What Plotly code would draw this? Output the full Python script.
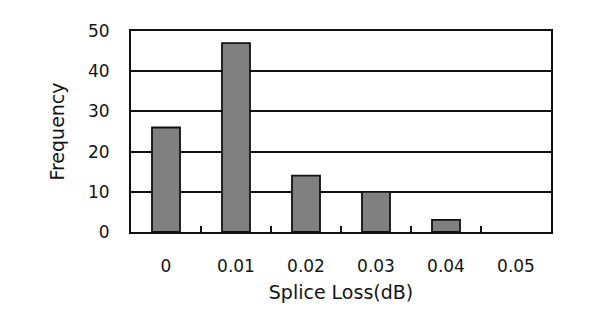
import plotly.graph_objects as go

categories = ["0", "0.01", "0.02", "0.03", "0.04", "0.05"]
frequency = [26, 47, 14, 10, 3, 0]
y_ticks = [0, 10, 20, 30, 40, 50]

outline_widths = [1.8 if v > 0 else 0 for v in frequency]

fig = go.Figure()
fig.add_trace(go.Bar(
    x=categories, y=frequency,
    marker=dict(color="#808080", line=dict(color="#111111", width=outline_widths)),
))

font_color = "#141414"
fig.update_layout(
    width=600, height=324,
    margin=dict(l=131, r=49, t=31, b=92),
    paper_bgcolor="white", plot_bgcolor="white",
    bargap=0.6,
    showlegend=False,
    font=dict(family="DejaVu Sans", color=font_color),
    xaxis=dict(
        type="category",
        tickson="boundaries",
        ticks="inside", ticklen=6, tickwidth=2, tickcolor="#111111",
        showline=True, linecolor="#111111", linewidth=2, mirror=True,
        showgrid=False,
        tickfont=dict(size=17, color=font_color),
        ticklabelstandoff=18,
        title=dict(text="Splice Loss(dB)", font=dict(size=19, color=font_color), standoff=10),
    ),
    yaxis=dict(
        range=[0, 50],
        tickvals=y_ticks,
        ticks="",
        showline=True, linecolor="#111111", linewidth=2, mirror=True,
        showgrid=True, gridcolor="#111111", gridwidth=1.6,
        zeroline=False,
        tickfont=dict(size=17, color=font_color),
        ticklabelstandoff=16,
        title=dict(text="Frequency", font=dict(size=19, color=font_color), standoff=18),
    ),
)

fig.write_html("out.html")
